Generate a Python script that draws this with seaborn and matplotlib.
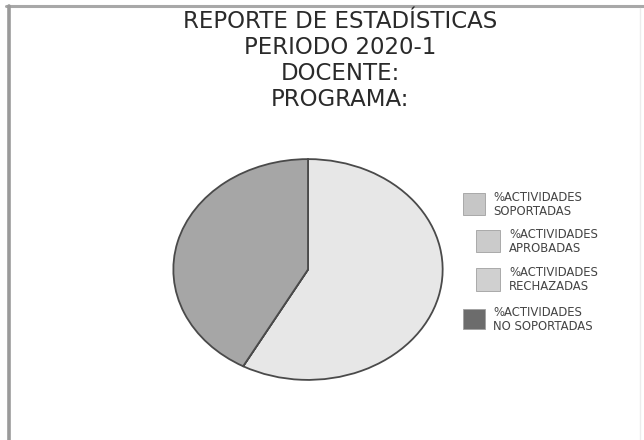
import matplotlib
matplotlib.use("Agg")
import matplotlib.pyplot as plt
from matplotlib.patches import Rectangle
import seaborn as sns

# data
categories = ["%ACTIVIDADES\nSOPORTADAS", "%ACTIVIDADES\nAPROBADAS",
              "%ACTIVIDADES\nRECHAZADAS", "%ACTIVIDADES\nNO SOPORTADAS"]
values = [58, 0, 0, 42]
title_lines = ["REPORTE DE ESTADÍSTICAS", "PERIODO 2020-1", "DOCENTE:", "PROGRAMA:"]

wedge_colors = ["#e7e7e7", "#cccccc", "#d2d2d2", "#a6a6a6"]
legend_colors = ["#c6c6c6", "#cbcbcb", "#d0d0d0", "#6c6c6c"]

sns.set_style("white")
plt.rcParams['font.family'] = ['DejaVu Sans']

W, H = 644, 440
fig = plt.figure(figsize=(W / 100, H / 100), dpi=100)
fig.patch.set_facecolor("white")


def fx(px):
    return px / W


def fy(py):
    return 1 - py / H


# page frame of the scanned document
fig.add_artist(plt.Line2D([fx(6), fx(644)], [fy(6), fy(6)], color="#a8a8a8", lw=2.2))
fig.add_artist(plt.Line2D([fx(8.5), fx(8.5)], [fy(6), fy(440)], color="#9a9a9a", lw=2.6))
fig.add_artist(plt.Line2D([fx(640), fx(640)], [fy(8), fy(440)], color="#ececec", lw=1))

# title
for line, y in zip(title_lines, [21, 47, 73, 99]):
    fig.text(fx(340), fy(y), line, ha="center", va="center", fontsize=16.5, color="#2a2a2a")

# pie (stretched into an ellipse)
ax = fig.add_axes([fx(172), fy(381), fx(444) - fx(172), fy(158) - fy(381)])
ax.pie(values, colors=wedge_colors, startangle=90, counterclock=False,
       wedgeprops=dict(edgecolor="#4a4a4a", linewidth=1.3))
ax.set_aspect("auto")
ax.set_xlim(-1.01, 1.01)
ax.set_ylim(-1.01, 1.01)
ax.axis("off")

# hand-placed legend (entries 2 and 3 are indented in the original)
boxes = [(463, 193, 22, 22), (476, 230, 24, 22), (476, 268, 24, 23), (463, 309, 22, 20)]
text_x = [493, 509, 509, 493]
for label, col, (bx, by, bw, bh), tx in zip(categories, legend_colors, boxes, text_x):
    fig.add_artist(Rectangle((fx(bx), fy(by + bh)), fx(bw), bh / H,
                             transform=fig.transFigure, facecolor=col,
                             edgecolor="#a0a0a0", linewidth=0.6))
    fig.text(fx(tx), fy(by + bh / 2), label, ha="left", va="center",
             fontsize=8.4, color="#444444", linespacing=1.1)

fig.savefig("out.png", dpi=100)
